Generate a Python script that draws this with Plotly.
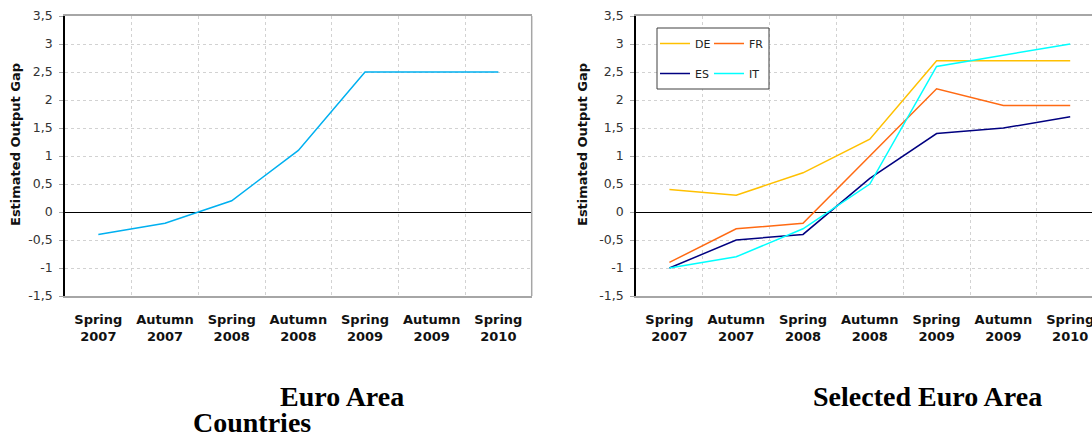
import plotly.graph_objects as go

W, H = 1092, 436

periods = ["Spring 2007", "Autumn 2007", "Spring 2008", "Autumn 2008",
           "Spring 2009", "Autumn 2009", "Spring 2010"]
period_labels = [p.replace(" ", "<br>") for p in periods]

euro_area = [-0.4, -0.2, 0.2, 1.1, 2.5, 2.5, 2.5]

de = [0.4, 0.3, 0.7, 1.3, 2.7, 2.7, 2.7]
fr = [-0.9, -0.3, -0.2, 1.0, 2.2, 1.9, 1.9]
es = [-1.0, -0.5, -0.4, 0.6, 1.4, 1.5, 1.7]
it = [-1.0, -0.8, -0.3, 0.5, 2.6, 2.8, 3.0]

y_ticks = [-1.5, -1, -0.5, 0, 0.5, 1, 1.5, 2, 2.5, 3, 3.5]
y_tick_labels = ["-1,5", "-1", "-0,5", "0", "0,5", "1", "1,5", "2", "2,5", "3", "3,5"]

fig = go.Figure()

fig.add_trace(go.Scatter(x=periods, y=euro_area, mode="lines", name="Euro Area",
                         line=dict(color="#00B0F0", width=1.5), showlegend=False,
                         xaxis="x", yaxis="y"))

series = [("DE", de, "#FFC000", "legend"), ("FR", fr, "#FF6A13", "legend2"),
          ("ES", es, "#000080", "legend3"), ("IT", it, "#00FFFF", "legend4")]
for name, vals, col, lg in series:
    fig.add_trace(go.Scatter(x=periods, y=vals, mode="lines", name=name,
                             line=dict(color=col, width=1.5), legend=lg,
                             xaxis="x2", yaxis="y2"))

def px_x(p):
    return p / W

def px_y(p):
    return 1 - p / H

ydom = [px_y(296), px_y(16)]
grid_col = "#d2d2d2"

xcommon = dict(type="category", categoryorder="array", categoryarray=periods,
               tickvals=periods, ticktext=period_labels, tickson="boundaries",
               showgrid=True, gridcolor=grid_col, griddash="dot", gridwidth=1,
               ticks="", showline=True, linecolor="#a6a6a6", linewidth=2, mirror=True,
               tickfont=dict(family="DejaVu Sans", size=13, color="#111111", weight="bold"),
               ticklabelstandoff=10, zeroline=False, automargin=False, fixedrange=True)
ycommon = dict(range=[-1.5, 3.5], tickvals=y_ticks, ticktext=y_tick_labels,
               showgrid=True, gridcolor=grid_col, griddash="dot", gridwidth=1,
               zeroline=True, zerolinecolor="#000000", zerolinewidth=1.2,
               showline=True, linecolor="#000000", linewidth=1.5,
               ticks="outside", ticklen=4, tickcolor="#a6a6a6", tickwidth=1,
               tickfont=dict(family="DejaVu Sans", size=12.5, color="#333333"),
               ticklabelstandoff=4, automargin=False, fixedrange=True)

leg_font = dict(family="DejaVu Sans", size=11, color="#222222")

def leg(xp, yp):
    return dict(orientation="h", x=px_x(xp), y=px_y(yp), xanchor="left", yanchor="top",
                xref="paper", yref="paper", bgcolor="rgba(0,0,0,0)", borderwidth=0,
                font=leg_font)

fig.update_layout(
    width=W, height=H,
    margin=dict(l=0, r=0, t=0, b=0),
    paper_bgcolor="white", plot_bgcolor="white",
    xaxis=dict(domain=[px_x(65), px_x(531.7)], range=[-0.5, 6.5], anchor="y", **xcommon),
    yaxis=dict(domain=ydom, anchor="x", **ycommon),
    xaxis2=dict(domain=[px_x(636), 1.0], range=[-0.5, 6.5 - 11.6 / 66.8], anchor="y2", **xcommon),
    yaxis2=dict(domain=ydom, anchor="x2", **ycommon),
    legend=leg(655, 29),
    legend2=leg(709, 29),
    legend3=leg(655, 59),
    legend4=leg(709, 59),
    showlegend=True,
)

# plot frame (right edge of left panel) and legend box
fig.add_shape(type="line", xref="x domain", yref="y domain", x0=1, x1=1, y0=0, y1=1,
              line=dict(color="#a6a6a6", width=1.5))
fig.add_shape(type="rect", xref="paper", yref="paper",
              x0=px_x(657), x1=px_x(769), y0=px_y(89), y1=px_y(28),
              line=dict(color="#404040", width=1), fillcolor="white", layer="above")

ann_font_t = dict(family="DejaVu Sans", size=13, color="#111111", weight="bold")
fig.add_annotation(text="Estimated Output Gap", xref="paper", yref="paper",
                   x=px_x(16), y=px_y(145), textangle=-90, showarrow=False,
                   xanchor="center", yanchor="middle", font=ann_font_t)
fig.add_annotation(text="Estimated Output Gap", xref="paper", yref="paper",
                   x=px_x(583), y=px_y(145), textangle=-90, showarrow=False,
                   xanchor="center", yanchor="middle", font=ann_font_t)

cap_font = dict(family="Liberation Serif", size=28, color="#000000", weight="bold")
fig.add_annotation(text="Euro Area", xref="paper", yref="paper", x=px_x(342), y=px_y(396),
                   showarrow=False, xanchor="center", yanchor="middle", font=cap_font)
fig.add_annotation(text="Countries", xref="paper", yref="paper", x=px_x(252), y=px_y(422),
                   showarrow=False, xanchor="center", yanchor="middle", font=cap_font)
fig.add_annotation(text="Selected Euro Area", xref="paper", yref="paper", x=px_x(927), y=px_y(396),
                   showarrow=False, xanchor="center", yanchor="middle", font=cap_font)

fig.write_html("out.html", config={"displayModeBar": False},
               post_script="document.body.style.margin='0';")
